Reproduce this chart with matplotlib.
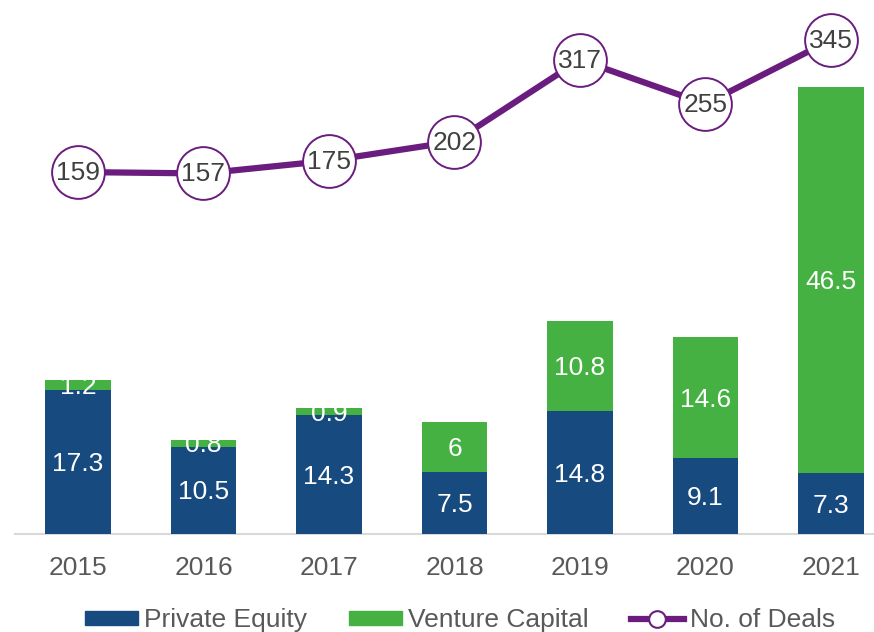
import matplotlib
matplotlib.use("Agg")
import matplotlib.pyplot as plt
from matplotlib.lines import Line2D
from matplotlib.patches import Patch

years = ["2015", "2016", "2017", "2018", "2019", "2020", "2021"]
private_equity = [17.3, 10.5, 14.3, 7.5, 14.8, 9.1, 7.3]
venture_capital = [1.2, 0.8, 0.9, 6, 10.8, 14.6, 46.5]
deals = [159, 157, 175, 202, 317, 255, 345]

PE_COLOR = "#174A7E"
VC_COLOR = "#45B142"
LINE_COLOR = "#6A1D7E"
TICK_COLOR = "#595959"
FS = 19

plt.rcParams["font.family"] = ["Liberation Sans", "DejaVu Sans"]

W, H = 874, 632
fig = plt.figure(figsize=(W / 100, H / 100), dpi=100)
ax = fig.add_axes([15 / W, 1 - 534 / H, 1 - 15 / W, 534 / H])

x = list(range(len(years)))
bw = 0.52
ax.bar(x, private_equity, width=bw, color=PE_COLOR, zorder=2)
ax.bar(x, venture_capital, width=bw, bottom=private_equity, color=VC_COLOR, zorder=2)

for i in x:
    pe = private_equity[i]
    vc = venture_capital[i]
    ax.annotate(f"{pe:g}", (i, pe / 2), xytext=(0, -2), textcoords="offset pixels",
                ha="center", va="center", color="white", fontsize=FS, zorder=3)
    ax.annotate(f"{vc:g}", (i, pe + vc / 2), xytext=(0, -2), textcoords="offset pixels",
                ha="center", va="center", color="white", fontsize=FS, zorder=3)

ax.set_xlim(-0.502, 6.343)
ax.set_ylim(0, 64.3)
ax.set_xticks(x)
ax.set_xticklabels(years, fontsize=FS, color=TICK_COLOR)
ax.tick_params(axis="x", length=0, pad=16)
ax.set_yticks([])
for s in ["top", "right", "left"]:
    ax.spines[s].set_visible(False)
ax.spines["bottom"].set_color("#D9D9D9")
ax.spines["bottom"].set_linewidth(1.5)
ax.spines["bottom"].set_zorder(1)

ax2 = ax.twinx()
ax2.set_ylim(-351, 401.4)
ax2.plot(x, deals, color=LINE_COLOR, linewidth=4.5, marker="o", markersize=38,
         markerfacecolor="white", markeredgecolor=LINE_COLOR, markeredgewidth=1.4, zorder=4,
         clip_on=False)
for i in x:
    ax2.annotate(str(deals[i]), (i, deals[i]), xytext=(0, -1), textcoords="offset pixels",
                 ha="center", va="center", color="#404040", fontsize=FS, zorder=5)
ax2.set_yticks([])
for s in ["top", "right", "left", "bottom"]:
    ax2.spines[s].set_visible(False)

handles = [
    Patch(facecolor=PE_COLOR, edgecolor=PE_COLOR),
    Patch(facecolor=VC_COLOR, edgecolor=VC_COLOR),
    Line2D([0], [0], color=LINE_COLOR, linewidth=4.5, marker="o", markersize=12,
           markerfacecolor="white", markeredgecolor=LINE_COLOR, markeredgewidth=1.5),
]
leg = fig.legend(handles, ["Private Equity", "Venture Capital", "No. of Deals"],
                 loc="center left", bbox_to_anchor=(85 / W, 1 - 620 / H), ncol=3, frameon=False,
                 fontsize=FS, handlelength=2.0, handleheight=0.44, handletextpad=0.23,
                 columnspacing=1.6, labelcolor=TICK_COLOR, borderpad=0, borderaxespad=0)

fig.savefig("out.png", dpi=100)
